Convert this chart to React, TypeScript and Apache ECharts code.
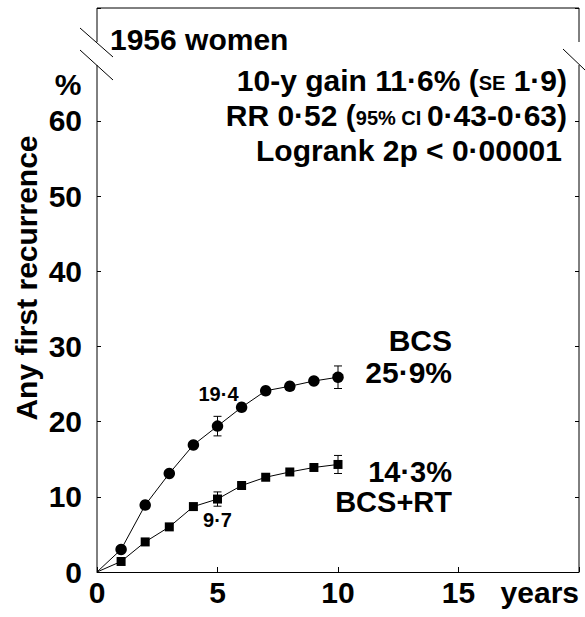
import React, { useEffect, useRef } from "react";
import * as echarts from "echarts";

const years = [0, 1, 2, 3, 4, 5, 6, 7, 8, 9, 10];
const bcs = [0, 3.0, 8.9, 13.1, 16.9, 19.4, 21.9, 24.1, 24.7, 25.4, 25.9];
const bcsRt = [0, 1.4, 4.0, 6.0, 8.7, 9.7, 11.5, 12.6, 13.3, 13.9, 14.3];
// [year, low, high]
const bcsErr = [
  [5, 18.1, 20.7],
  [10, 24.4, 27.4],
];
const bcsRtErr = [
  [5, 8.75, 10.65],
  [10, 13.1, 15.5],
];
const yTickLabels = ["0", "10", "20", "30", "40", "50", "60"];
const xTickLabels = ["0", "5", "10", "15", "years"];

const FONT = '"Liberation Sans", Arial, Helvetica, sans-serif';

function lineData(vals: number[], annotateIdx: number, annot: string, offset: number[]) {
  return years.map((y, i) => {
    const item: any = { value: [y, vals[i]] };
    if (i === 0) item.symbol = "none";
    if (i === annotateIdx) {
      item.label = {
        show: true,
        position: "inside",
        offset,
        formatter: annot,
        fontFamily: FONT,
        fontWeight: "bold",
        fontSize: 20,
        color: "#000",
      };
    }
    return item;
  });
}

function errSeries(data: number[][]) {
  return {
    type: "custom",
    silent: true,
    z: 1,
    data,
    renderItem: (params: any, api: any) => {
      const x = api.value(0);
      const lo = api.coord([x, api.value(1)]);
      const hi = api.coord([x, api.value(2)]);
      const w = 4;
      const style = { stroke: "#000", lineWidth: 1 };
      return {
        type: "group",
        children: [
          { type: "line", shape: { x1: lo[0], y1: lo[1], x2: hi[0], y2: hi[1] }, style },
          { type: "line", shape: { x1: lo[0] - w, y1: lo[1], x2: lo[0] + w, y2: lo[1] }, style },
          { type: "line", shape: { x1: hi[0] - w, y1: hi[1], x2: hi[0] + w, y2: hi[1] }, style },
        ],
      };
    },
  };
}

export default function App() {
  const ref = useRef<HTMLDivElement>(null);
  useEffect(() => {
    if (!ref.current) return;
    const chart = echarts.init(ref.current, undefined, { renderer: "svg" });
    const txt = (text: string, x: number, y: number, size: number, align = "right", extra: any = {}) => ({
      type: "text",
      x,
      y,
      z: 20,
      style: {
        text,
        fontFamily: FONT,
        fontWeight: "bold",
        fontSize: size,
        fill: "#000",
        align,
        verticalAlign: "middle",
        ...extra,
      },
    });
    const ln = (x1: number, y1: number, x2: number, y2: number) => ({
      type: "line",
      z: 30,
      shape: { x1, y1, x2, y2 },
      style: { stroke: "#000", lineWidth: 1 },
    });
    const small = {
      fontFamily: FONT,
      fontWeight: "bold",
      fontSize: 20,
      fill: "#000",
      lineHeight: 30,
      verticalAlign: "bottom",
      padding: [0, 0, 2, 0],
    };
    const big = {
      fontFamily: FONT,
      fontWeight: "bold",
      fontSize: 30,
      fill: "#000",
      lineHeight: 30,
      verticalAlign: "bottom",
    };
    chart.setOption({
      animation: false,
      backgroundColor: "#fff",
      grid: { left: 97, right: 6, top: 8, bottom: 45 },
      xAxis: {
        type: "value",
        min: 0,
        max: 20,
        interval: 5,
        axisLine: { show: true, lineStyle: { color: "#000", width: 1 } },
        axisTick: { show: true, inside: true, length: 5, lineStyle: { color: "#000" } },
        splitLine: { show: false },
        axisLabel: {
          margin: 5,
          fontFamily: FONT,
          fontWeight: "bold",
          fontSize: 30,
          color: "#000",
          alignMaxLabel: "right",
          formatter: (v: number) => xTickLabels[Math.round(v / 5)] ?? "",
        },
      },
      yAxis: [
        {
          type: "value",
          min: 0,
          max: 75,
          interval: 10,
          axisLine: { show: false },
          axisTick: { show: true, inside: true, length: 4, lineStyle: { color: "#000" } },
          splitLine: { show: false },
          axisLabel: {
            margin: 15,
            fontFamily: FONT,
            fontWeight: "bold",
            fontSize: 30,
            color: "#000",
            formatter: (v: number) => yTickLabels[Math.round(v / 10)] ?? "",
          },
        },
        {
          type: "value",
          position: "right",
          min: 0,
          max: 75,
          interval: 10,
          axisLine: { show: false },
          axisTick: { show: true, inside: true, length: 4, lineStyle: { color: "#000" } },
          splitLine: { show: false },
          axisLabel: { show: false },
        },
      ],
      series: [
        {
          type: "line",
          data: lineData(bcs, 5, "19·4", [1, -32]),
          symbol: "circle",
          symbolSize: 11.5,
          itemStyle: { color: "#000" },
          lineStyle: { color: "#000", width: 1 },
          z: 3,
        },
        {
          type: "line",
          data: lineData(bcsRt, 5, "9·7", [0, 21]),
          symbol: "rect",
          symbolSize: 9,
          itemStyle: { color: "#000" },
          lineStyle: { color: "#000", width: 1 },
          z: 3,
        },
        errSeries(bcsErr),
        errSeries(bcsRtErr),
      ],
      graphic: [
        // white masks over axis-break gaps
        { type: "rect", z: 25, shape: { x: 90, y: 42, width: 12, height: 23 }, style: { fill: "#fff" } },
        { type: "rect", z: 25, shape: { x: 572, y: 42, width: 13, height: 23 }, style: { fill: "#fff" } },
        // frame
        ln(97, 8, 579, 8),
        ln(97, 8, 97, 42),
        ln(97, 65, 97, 572),
        ln(579, 8, 579, 42),
        ln(579, 65, 579, 572),
        // break slashes
        ln(80, 28, 113, 57),
        ln(80, 50, 113, 80),
        ln(563, 49, 585, 70),
        // texts
        txt("1956 women", 110, 39, 30, "left"),
        {
          type: "text",
          x: 567,
          y: 80,
          z: 20,
          style: {
            text: "{b|10-y gain 11·6% (}{s|SE}{b| 1·9)}",
            align: "right",
            verticalAlign: "middle",
            rich: { b: big, s: small },
          },
        },
        {
          type: "text",
          x: 567,
          y: 115,
          z: 20,
          style: {
            text: "{b|RR 0·52 (}{s|95% CI }{b|0·43-0·63)}",
            align: "right",
            verticalAlign: "middle",
            rich: { b: big, s: small },
          },
        },
        txt("Logrank 2p < 0·00001", 562, 150, 30),
        txt("%", 68, 84, 30, "center"),
        {
          type: "text",
          x: 26,
          y: 278,
          rotation: Math.PI / 2,
          z: 20,
          style: {
            text: "Any first recurrence",
            fontFamily: FONT,
            fontWeight: "bold",
            fontSize: 30,
            fill: "#000",
            align: "center",
            verticalAlign: "middle",
          },
        },
        txt("BCS\n25·9%", 452, 356, 30, "right", { lineHeight: 32 }),
        txt("14·3%\nBCS+RT", 452, 487, 29, "right", { lineHeight: 30 }),
      ],
    });
    return () => chart.dispose();
  }, []);
  return (
    <div
      ref={ref}
      style={{ position: "fixed", left: 0, top: 0, width: 585, height: 617, background: "#fff" }}
    />
  );
}
